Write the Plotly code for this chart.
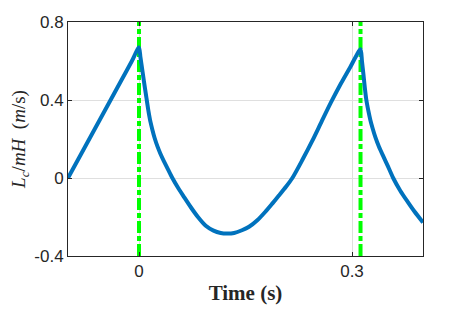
import plotly.graph_objects as go

# Curve readings (time in s, value in m/s)
time_s = [-0.100, -0.085, -0.070, -0.055, -0.040, -0.025, -0.010, 0.000,
          0.002, 0.005, 0.008, 0.0105, 0.013, 0.016, 0.019, 0.022, 0.026, 0.030,
          0.035, 0.041, 0.047,
          0.055, 0.063, 0.073, 0.083, 0.094, 0.105, 0.115, 0.124, 0.134, 0.145,
          0.155, 0.167, 0.178, 0.188, 0.197, 0.207, 0.216, 0.230, 0.244, 0.257,
          0.270, 0.284, 0.298, 0.312,
          0.314, 0.316, 0.318, 0.320, 0.323, 0.326, 0.329, 0.333, 0.338, 0.344,
          0.351, 0.358, 0.368, 0.378, 0.388, 0.400]
value = [0.000, 0.100, 0.200, 0.300, 0.400, 0.500, 0.600, 0.670,
         0.620, 0.545, 0.470, 0.410, 0.350, 0.290, 0.245, 0.205, 0.162, 0.126,
         0.087, 0.043, 0.000,
         -0.050, -0.095, -0.150, -0.200, -0.245, -0.270, -0.282, -0.285, -0.282, -0.268,
         -0.250, -0.215, -0.173, -0.130, -0.090, -0.045, 0.000, 0.092, 0.190, 0.288,
         0.385, 0.482, 0.572, 0.660,
         0.600, 0.535, 0.465, 0.405, 0.345, 0.295, 0.255, 0.208, 0.160, 0.112,
         0.057, 0.000, -0.065, -0.120, -0.172, -0.228]

# Event markers (vertical dash-dot lines)
event_times = [0.0, 0.312]
y_range = [-0.4, 0.8]

x_ticks = [0, 0.3]
x_tick_labels = ["0", "0.3"]
y_ticks = [-0.4, 0, 0.4, 0.8]
y_tick_labels = ["-0.4", "0", "0.4", "0.8"]

fig = go.Figure()

for t in event_times:
    fig.add_trace(go.Scatter(
        x=[t, t], y=y_range, mode="lines",
        line=dict(color="#00ff00", width=4, dash="12px,3px,5px,3px"),
        hoverinfo="skip", showlegend=False))

fig.add_trace(go.Scatter(
    x=time_s, y=value, mode="lines",
    line=dict(color="#0072BD", width=4, shape="spline", smoothing=0.7),
    showlegend=False))

axis_common = dict(
    showline=True, linecolor="#262626", linewidth=1, mirror="ticks",
    ticks="inside", ticklen=4, tickcolor="#262626",
    showgrid=True, gridcolor="#dfdfdf", gridwidth=1,
    zeroline=False, automargin=False,
    tickfont=dict(family="Liberation Sans, Arial, sans-serif", size=17, color="#262626"),
)

fig.update_xaxes(
    range=[-0.1, 0.4], tickvals=x_ticks, ticktext=x_tick_labels,
    title=dict(text="<b>Time (s)</b>",
               font=dict(family="Liberation Serif, DejaVu Serif, serif", size=21, color="#262626"),
               standoff=4),
    **axis_common)
fig.update_yaxes(
    range=y_range, tickvals=y_ticks, ticktext=y_tick_labels,
    title=dict(text="<i>L<sub>c</sub></i>/<i>mH</i>  (<i>m</i>/s)",
               font=dict(family="Liberation Serif, DejaVu Serif, serif", size=19, color="#262626"),
               standoff=6),
    **axis_common)

fig.update_layout(
    width=469, height=312,
    margin=dict(l=60, r=54, t=14, b=64),
    paper_bgcolor="white", plot_bgcolor="white",
)

fig.write_html("out.html")
